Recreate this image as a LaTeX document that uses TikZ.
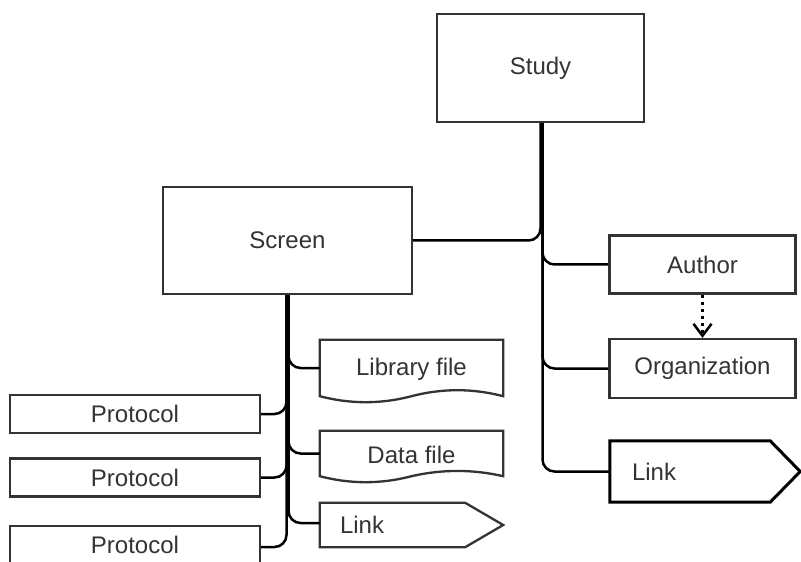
\documentclass[tikz,border=0pt]{standalone}
\usepackage{fontspec}
\setmainfont{Liberation Sans}
\usetikzlibrary{calc,arrows.meta}
\definecolor{boxgray}{HTML}{333333}
\definecolor{txtgray}{HTML}{333333}
\tikzset{
  lbl/.style={font=\fontsize{24bp}{28bp}\selectfont, text=txtgray, inner sep=0pt},
  box/.style={lbl, draw=boxgray, line width=2.3bp, fill=white, align=center},
  plain/.style={lbl, align=center},
  shapeline/.style={draw=boxgray, line width=2.3bp, fill=white},
  edge/.style={draw=black, line width=2.5bp, rounded corners=12bp},
  dep/.style={draw=black, line width=2.5bp, dash pattern=on 3bp off 4bp, -{Straight Barb[length=12bp,width=18bp,line width=2.5bp,sep=0pt]}}
}
\begin{document}
\begin{tikzpicture}[x=1bp,y=-1bp]
\useasboundingbox (0,0) rectangle (801,562);
\fill[white] (0,0) rectangle (801,562);
\clip (0,0) rectangle (801,562);

% main boxes
\node[box, minimum width=207bp, minimum height=108bp] (study) at (540.5,68) {Study};
\node[box, minimum width=249bp, minimum height=107bp] (screen) at (287.5,240.5) {Screen};
\node[box, minimum width=186bp, minimum height=58bp] (author) at (702.5,264.5) {Author};
\node[box, minimum width=186bp, minimum height=59bp] (org) at (702.5,368.5) {Organization};

% protocols
\node[box, minimum width=250bp, minimum height=38bp] (p1) at (135,414) {Protocol};
\node[box, minimum width=250bp, minimum height=38bp] (p2) at (135,477.5) {Protocol};
\node[box, minimum width=250bp, minimum height=38bp] (p3) at (135,545) {Protocol};

% document shapes (outline drawn from anchors)
\node[plain, minimum width=183bp, minimum height=56bp] (lib) at (411.5,368) {};
\node[plain, minimum width=183bp, minimum height=45bp] (data) at (411.5,453.5) {};
\path[shapeline] (lib.north west) -- (lib.north east) -- (lib.south east)
  .. controls +(-30.5,-8) and +(30.5,-8) .. (lib.south)
  .. controls +(-30.5,8) and +(30.5,8) .. (lib.south west) -- cycle;
\path[shapeline] (data.north west) -- (data.north east) -- (data.south east)
  .. controls +(-30.5,-7) and +(30.5,-7) .. (data.south)
  .. controls +(-30.5,8) and +(30.5,8) .. (data.south west) -- cycle;
\node[plain] at ([yshift=-1bp]lib.center) {Library file};
\node[plain] at ([yshift=-1bp]data.center) {Data file};

% link shapes
\node[lbl, minimum width=183bp, minimum height=44bp, text width=147bp, inner xsep=18bp, align=left] (linkL) at (411.5,525) {};
\node[lbl, minimum width=190bp, minimum height=61bp, text width=150bp, inner xsep=20bp, align=left] (linkR) at (705,471.5) {};
\path[shapeline] (linkL.north west) -- ($(linkL.north east)+(-38,0)$) -- (linkL.east)
  -- ($(linkL.south east)+(-38,0)$) -- (linkL.south west) -- cycle;
\path[draw=black, fill=white, line width=3bp] (linkR.north west) -- ($(linkR.north east)+(-30,0)$) -- (linkR.east)
  -- ($(linkR.south east)+(-30,0)$) -- (linkR.south west) -- cycle;
\node[lbl, anchor=west] at ($(linkL.west)+(20,0)$) {Link};
\node[lbl, anchor=west] at ($(linkR.west)+(22,0)$) {Link};

% connectors from Study
\draw[edge] (study.south) |- (screen.east);
\draw[edge] ([xshift=2bp]study.south) |- (author.west);
\draw[edge] ([xshift=2bp]study.south) |- (org.west);
\draw[edge] ([xshift=2bp]study.south) |- (linkR.west);

% connectors from Screen
\draw[edge] ([xshift=1bp]screen.south) |- (lib.west);
\draw[edge] ([xshift=1bp]screen.south) |- (data.west);
\draw[edge] ([xshift=1bp]screen.south) |- ([yshift=2bp]linkL.west);
\draw[edge] ([xshift=-1bp]screen.south) |- (p1.east);
\draw[edge] ([xshift=-1bp]screen.south) |- (p2.east);
\draw[edge] ([xshift=-1bp]screen.south) |- ([yshift=-2bp]p3.east);

% dependency
\draw[dep] (author.south) -- (org.north);
\end{tikzpicture}
\end{document}
